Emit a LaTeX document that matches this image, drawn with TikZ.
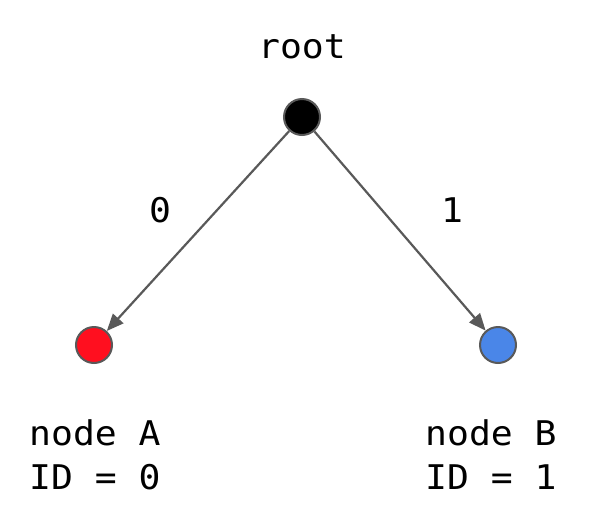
\documentclass[tikz,border=0pt]{standalone}
\usepackage{fontspec}
\setmonofont[FakeStretch=1.07]{DejaVu Sans Mono}
\usetikzlibrary{arrows.meta}
\definecolor{edgegray}{HTML}{595959}
\definecolor{nodered}{HTML}{FF0F1F}
\definecolor{nodeblue}{HTML}{4A86E8}
\begin{document}
\begin{tikzpicture}[x=1pt,y=-1pt,>={Triangle[length=17pt,width=14pt]},
    dot/.style={circle,draw=edgegray,line width=2pt,minimum size=36pt,inner sep=0pt},
    txt/.style={font=\ttfamily\fontsize{34}{44}\selectfont,inner sep=0pt}]
    \useasboundingbox (0,0) rectangle (592,528);

    % Nodos del arbol
    \node[dot,fill=black] (root) at (302,117) {};
    \node[dot,fill=nodered] (nodeA) at (94,345) {};
    \node[dot,fill=nodeblue] (nodeB) at (498,345) {};

    % Etiquetas
    \node[txt] (rootlabel) at (302,47) {root};
    \node[txt] (zerolabel) at (160,210) {0};
    \node[txt] (onelabel) at (452,210) {1};
    \node[txt,align=left,anchor=west] (infoA) at (29,455) {node A\\ID = 0};
    \node[txt,align=left,anchor=west] (infoB) at (425,455) {node B\\ID = 1};

    % Aristas
    \draw[edgegray,line width=2.2pt,->] (root) -- (nodeA);
    \draw[edgegray,line width=2.2pt,->] (root) -- (nodeB);

\end{tikzpicture}
\end{document}
